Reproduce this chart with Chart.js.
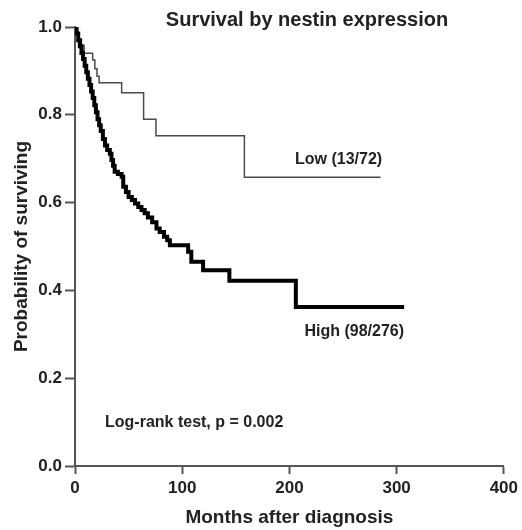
<!DOCTYPE html>
<html lang="en">
<head>
    <meta charset="UTF-8">
    <title>Survival by nestin expression</title>
    <script src="https://cdn.jsdelivr.net/npm/chart.js"></script>
    <style>
        body { margin: 0; background: #fff; }
        canvas { display: block; }
    </style>
</head>
<body>
    <canvas id="survivalChart" width="522" height="530"></canvas>

    <script>
        // Kaplan-Meier steps (months, survival)
        const highMonths = [0, 1.5, 3, 4.5, 6, 7.5, 9, 10.5, 12, 13.5, 15, 16.5, 18, 19.5, 21, 22.5, 24, 26, 28, 30,
            32.5, 34, 35.5, 37, 40, 43.5, 45, 47.5, 50, 53, 56, 59, 62, 65, 68, 72, 76, 79, 83, 86, 88.5,
            105.5, 108.5, 119.5, 144, 206, 307];
        const highSurv = [1.0, 0.985, 0.970, 0.956, 0.941, 0.927, 0.912, 0.897, 0.882, 0.868, 0.853, 0.838, 0.822, 0.806,
            0.790, 0.776, 0.763, 0.745, 0.730, 0.720, 0.711, 0.697, 0.684, 0.670, 0.665, 0.659, 0.636, 0.624, 0.613, 0.606,
            0.598, 0.590, 0.583, 0.576, 0.566, 0.555, 0.541, 0.533, 0.522, 0.514, 0.503,
            0.488, 0.465, 0.446, 0.422, 0.362, 0.362];

        const lowMonths = [0, 2, 4, 6, 8.5, 16.5, 18.5, 20.5, 22.5, 43.5, 64, 75.5, 158, 285];
        const lowSurv = [1.0, 0.986, 0.972, 0.958, 0.940, 0.925, 0.905, 0.888, 0.873, 0.850, 0.790, 0.752, 0.658, 0.658];

        const xTicks = [0, 100, 200, 300, 400];
        const yTicks = [0.0, 0.2, 0.4, 0.6, 0.8, 1.0];

        const textColor = '#222';
        const axisColor = '#555';
        const fontFamily = '"Liberation Sans", Arial, Helvetica, sans-serif';

        // text placed in data units: [text, month, survival, align]
        const notes = [
            ['Low (13/72)', 286.5, 0.697, 'right'],
            ['High (98/276)', 214, 0.306, 'left'],
            ['Log-rank test, p = 0.002', 28, 0.098, 'left']
        ];

        const toPoints = (xs, ys) => xs.map((x, i) => ({ x: x, y: ys[i] }));

        const textPlugin = {
            id: 'textPlugin',
            afterDraw(chart) {
                const ctx = chart.ctx;
                const xs = chart.scales.x;
                const ys = chart.scales.y;
                ctx.save();
                ctx.fillStyle = textColor;
                ctx.textBaseline = 'middle';

                ctx.font = 'bold 20px ' + fontFamily;
                ctx.textAlign = 'center';
                ctx.fillText('Survival by nestin expression', 307, 20);

                ctx.font = 'bold 16px ' + fontFamily;
                notes.forEach(n => {
                    ctx.textAlign = n[3];
                    ctx.fillText(n[0], xs.getPixelForValue(n[1]), ys.getPixelForValue(n[2]));
                });
                ctx.restore();
            }
        };

        const ctx = document.getElementById('survivalChart').getContext('2d');
        new Chart(ctx, {
            type: 'line',
            data: {
                datasets: [{
                    label: 'High (98/276)',
                    data: toPoints(highMonths, highSurv),
                    borderColor: '#000',
                    borderWidth: 4,
                    stepped: true,
                    borderJoinStyle: 'miter',
                    pointRadius: 0,
                    fill: false
                }, {
                    label: 'Low (13/72)',
                    data: toPoints(lowMonths, lowSurv),
                    borderColor: '#4a4a4a',
                    borderWidth: 1.5,
                    stepped: true,
                    borderJoinStyle: 'miter',
                    pointRadius: 0,
                    fill: false
                }]
            },
            options: {
                responsive: false,
                animation: false,
                devicePixelRatio: 1,
                layout: { padding: { left: 0, right: 17, top: 27, bottom: 0 } },
                plugins: {
                    legend: { display: false },
                    tooltip: { enabled: false }
                },
                scales: {
                    x: {
                        type: 'linear',
                        min: 0,
                        max: 400,
                        afterBuildTicks: s => { s.ticks = xTicks.map(v => ({ value: v })); },
                        afterFit: s => { s.height = 64; },
                        ticks: {
                            color: textColor,
                            font: { family: fontFamily, size: 17, weight: 'bold' },
                            padding: 4,
                            maxRotation: 0
                        },
                        grid: {
                            drawOnChartArea: false,
                            tickLength: 8,
                            tickColor: axisColor,
                            tickWidth: 2
                        },
                        border: { color: axisColor, width: 2 },
                        title: {
                            display: true,
                            text: 'Months after diagnosis',
                            color: textColor,
                            font: { family: fontFamily, size: 19, weight: 'bold' },
                            padding: { top: 0, bottom: 1 }
                        }
                    },
                    y: {
                        min: 0,
                        max: 1,
                        afterBuildTicks: s => { s.ticks = yTicks.map(v => ({ value: v })); },
                        afterFit: s => { s.width = 75; },
                        ticks: {
                            color: textColor,
                            font: { family: fontFamily, size: 17, weight: 'bold' },
                            padding: 3,
                            callback: v => Number(v).toFixed(1)
                        },
                        grid: {
                            drawOnChartArea: false,
                            tickLength: 10,
                            tickColor: axisColor,
                            tickWidth: 2
                        },
                        border: { color: axisColor, width: 2 },
                        title: {
                            display: true,
                            text: 'Probability of surviving',
                            color: textColor,
                            font: { family: fontFamily, size: 19, weight: 'bold' },
                            padding: { top: 10, bottom: 0 }
                        }
                    }
                }
            },
            plugins: [textPlugin]
        });
    </script>
</body>
</html>
